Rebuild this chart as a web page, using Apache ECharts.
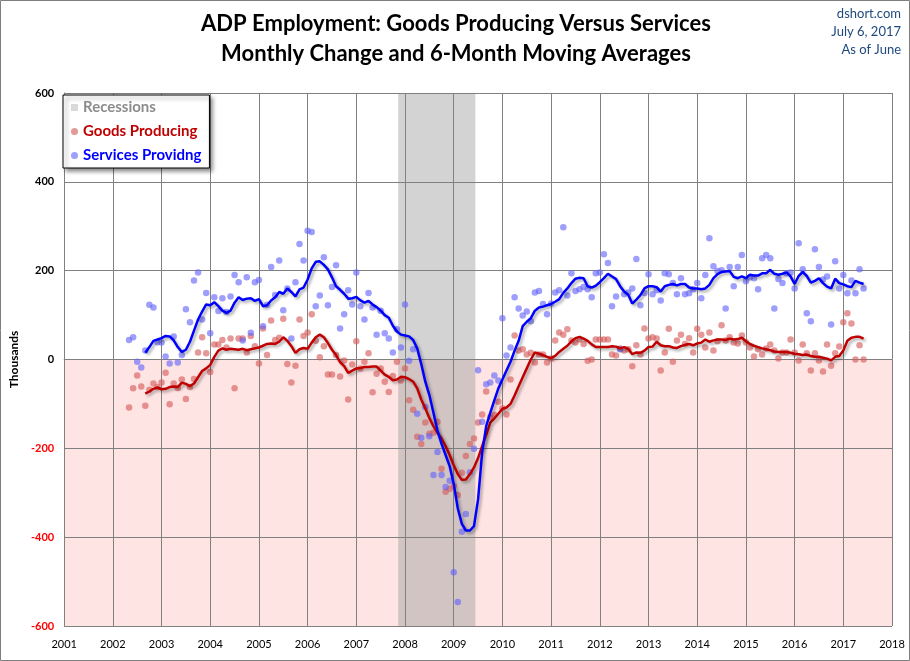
<!DOCTYPE html>
<html>
<head>
<meta charset="utf-8">
<script src="https://cdn.jsdelivr.net/npm/echarts@6/dist/echarts.min.js"></script>
<style>
  html, body { margin: 0; padding: 0; background: #fff; }
  #chart { width: 910px; height: 661px; }
</style>
</head>
<body>
<div id="chart"></div>
<script>
// --- Data (monthly change, thousands) ---
// Scatter data starts May 2002, one value per month up to June 2017
const firstMonth = { year: 2002, month: 5 };
const goodsMonthly = [
  -108, -65, -36, -61, -104, -68, -54, -62,                 // 2002 May-Dec
  -52, -30, -101, -54, -64, -45, -89, -62, -44, 16, 50, 14,  // 2003
  -28, 34, 34, 44, 27, 47, -65, 47, 47, 16, 53, 30,          // 2004
  -9, 70, 10, 88, 44, 49, 92, -10, -52, -14, 90, 53,         // 2005
  61, 102, 42, 5, 30, -34, -34, 10, -38, -2, -90, -11,       // 2006
  41, -20, -5, 14, -74, -32, -20, -50, -73, -37, -5, -47,    // 2007
  -20, -92, -113, -174, -190, -142, -167, -165, -140, -246, -298, -291, // 2008
  -285, -305, -255, -217, -190, -178, -142, -124, -72, -130, -125, -95, // 2009
  -110, -124, -45, 54, 20, 23, 11, 15, -7, 11, 11, -7,       // 2010
  2, 43, 61, 56, 68, 43, 38, 45, 35, -3, 0, 45,              // 2011
  45, 45, 45, 11, 9, 25, 20, 23, -15, 32, 11, 70,            // 2012
  47, 50, 47, -25, 16, 69, -5, 43, 56, 35, 48, 16,           // 2013
  69, 56, 27, 61, 20, 41, 77, 43, 50, 38, 36, 54,            // 2014
  38, 27, 7, 23, 11, 25, 34, 20, 2, 16, 16, 45,              // 2015
  16, -2, 34, 14, -25, 14, -2, -27, 34, -14, 14, 29,         // 2016
  84, 104, 81, 0, 32, 0                                      // 2017 Jan-Jun
];
const servicesMonthly = [
  44, 50, -5, -18, 20, 123, 117, 39,                         // 2002 May-Dec
  38, 7, -9, 52, -7, 10, 113, 84, 178, 196, 90, 150,         // 2003
  59, 140, 109, 138, 107, 142, 190, 174, 43, 185, 60, 174,   // 2004
  179, 75, 123, 208, 145, 223, 111, 160, 47, 174, 260, 223,  // 2005
  290, 287, 120, 144, 230, 122, 163, 212, 70, 102, 156, 124, // 2006
  196, 120, 90, 150, 117, 56, 110, 59, 47, 16, 68, 27,       // 2007
  124, -3, 23, -122, -176, -107, -173, -260, -208, -260, -287, -273, // 2008
  -479, -546, -388, -348, -254, -201, -24, -140, -56, -52, -36, -47, // 2009
  93, 9, 27, 140, 115, 99, 108, 86, 151, 154, 125, 102,      // 2010
  126, 151, 156, 298, 144, 194, 154, 158, 163, 158, 140, 194, // 2011
  196, 237, 217, 120, 142, 23, 147, 151, 160, 226, 122, 150, // 2012
  192, 147, 156, 133, 194, 192, 172, 147, 183, 147, 149, 158, // 2013
  172, 138, 190, 273, 210, 199, 201, 115, 208, 165, 208, 235, // 2014
  176, 185, 183, 158, 228, 235, 228, 115, 181, 172, 194, 196, // 2015
  160, 262, 203, 104, 86, 248, 208, 180, 187, 79, 221, 160,  // 2016
  190, 149, 178, 149, 203, 160                               // 2017 Jan-Jun
];

// 6-month moving averages, as drawn, starting Sep 2002
const maFirstMonth = { year: 2002, month: 9 };
const goodsMA = [
  -77, -72, -66, -63,
  -67, -66, -62, -61, -62, -52, -55, -60, -54, -40, -26, -20,
  -12, 6, 20, 25, 22, 24, 23, 22, 24, 21, 23, 25,
  27, 31, 35, 36, 35, 40, 50, 42, 30, 15, 23, 26,
  24, 38, 50, 56, 50, 37, 22, 10, -6, -15, -30, -25,
  -20, -19, -17, -17, -16, -16, -25, -34, -39, -47, -45, -39,
  -40, -44, -50, -65, -90, -110, -132, -150, -165, -178, -195, -215,
  -238, -258, -271, -270, -258, -243, -222, -195, -170, -142, -133, -122,
  -111, -108, -100, -81, -60, -40, -20, 0, 16, 13, 10, 6,
  3, 8, 17, 24, 31, 41, 48, 51, 47, 42, 34, 28,
  28, 28, 28, 30, 29, 25, 28, 24, 12, 16, 15, 20,
  28, 29, 40, 32, 30, 30, 27, 26, 30, 33, 35, 32,
  36, 38, 45, 40, 43, 45, 45, 44, 47, 45, 46, 49,
  41, 35, 31, 28, 25, 23, 21, 18, 17, 17, 17, 15,
  13, 12, 10, 11, 8, 6, 6, 4, 2, -2, 6, 8,
  20, 42, 49, 51, 51, 47
];
const servicesMA = [
  15, 28, 42, 45,
  48, 53, 52, 43, 28, 17, 22, 40, 65, 90, 108, 124,
  122, 129, 120, 110, 105, 110, 128, 140, 134, 137, 138, 132,
  136, 120, 122, 133, 140, 152, 148, 160, 152, 142, 158, 162,
  180, 205, 220, 221, 213, 203, 185, 165, 157, 148, 137, 138,
  141, 133, 128, 132, 124, 118, 110, 100, 94, 76, 63, 56,
  54, 52, 44, 25, -10, -50, -80, -120, -160, -190, -215, -240,
  -280, -335, -370, -385, -385, -375, -315, -210, -150, -120, -92, -65,
  -45, -25, -5, 20, 42, 75, 85, 93, 110, 117, 119, 122,
  125, 130, 136, 150, 160, 172, 182, 184, 183, 165, 162, 166,
  174, 183, 193, 187, 181, 165, 153, 146, 126, 135, 145, 160,
  165, 165, 163, 153, 165, 168, 170, 167, 170, 170, 162, 160,
  160, 158, 160, 168, 183, 192, 197, 198, 199, 186, 183, 187,
  183, 191, 189, 189, 194, 194, 202, 193, 191, 193, 196, 187,
  170, 188, 197, 188, 173, 177, 183, 172, 164, 160, 182, 172,
  169, 165, 163, 177, 173, 170
];

// Recession (Dec 2007 - Jun 2009) and axis range
const recession = [2007.86, 2009.445];
const xYears = [2001, 2018];
const yRange = [-600, 600];

// --- Helpers ---
const FONT = 'Lato, "Open Sans", sans-serif';

// month index -> decimal year position on the value axis
function toSeries(values, start) {
  return values.map((v, i) => {
    const m = start.month - 1 + i;
    return [start.year + m / 12, v];
  });
}

const chart = echarts.init(document.getElementById('chart'), null, { renderer: 'canvas' });

const lineShadow = { shadowColor: 'rgba(0,0,0,0.35)', shadowBlur: 3, shadowOffsetX: 2, shadowOffsetY: 2 };
const titleFont = 'bold 22px ' + FONT;
const noteFont = '13px ' + FONT;

chart.setOption({
  animation: false,
  grid: { left: 60, right: 18, top: 93, bottom: 35 },
  graphic: [
    { type: 'rect', shape: { x: 0.5, y: 0.5, width: 909, height: 660 },
      style: { fill: null, stroke: '#7f7f7f', lineWidth: 1 }, z: 100 },
    { type: 'text', x: 456, y: 24, style: { text: 'ADP Employment: Goods Producing Versus Services',
      align: 'center', verticalAlign: 'middle', font: titleFont, fill: '#000' } },
    { type: 'text', x: 456, y: 54, style: { text: 'Monthly Change and 6-Month Moving Averages',
      align: 'center', verticalAlign: 'middle', font: titleFont, fill: '#000' } },
    { type: 'text', x: 901, y: 14, style: { text: 'dshort.com', align: 'right', verticalAlign: 'middle',
      font: noteFont, fill: '#1F497D' } },
    { type: 'text', x: 901, y: 32, style: { text: 'July 6, 2017', align: 'right', verticalAlign: 'middle',
      font: noteFont, fill: '#1F497D' } },
    { type: 'text', x: 901, y: 50, style: { text: 'As of June', align: 'right', verticalAlign: 'middle',
      font: noteFont, fill: '#1F497D' } }
  ],
  legend: {
    left: 63, top: 95, orient: 'vertical',
    itemWidth: 7, itemHeight: 7, itemGap: 9,
    padding: [5, 8, 5, 8],
    backgroundColor: '#fff', borderColor: '#000', borderWidth: 1,
    shadowColor: 'rgba(0,0,0,0.45)', shadowBlur: 4, shadowOffsetX: 3, shadowOffsetY: 3,
    selectedMode: false,
    textStyle: { fontFamily: FONT, fontSize: 15, fontWeight: 'bold' },
    data: [
      { name: 'Recessions', icon: 'rect', textStyle: { color: '#8c8c8c' } },
      { name: 'Goods Producing', icon: 'circle', textStyle: { color: '#C00000' } },
      { name: 'Services Providng', icon: 'circle', textStyle: { color: '#0000FF' } }
    ]
  },
  xAxis: {
    type: 'value', min: xYears[0], max: xYears[1], interval: 1, z: 3,
    axisLine: { show: true, lineStyle: { color: '#808080' } },
    axisTick: { show: false },
    splitLine: { show: true, lineStyle: { color: '#808080', width: 1 } },
    axisLabel: { formatter: v => String(v), color: '#000', fontFamily: FONT, fontSize: 11, margin: 13 }
  },
  yAxis: {
    type: 'value', min: yRange[0], max: yRange[1], interval: 200, z: 3,
    name: 'Thousands', nameLocation: 'middle', nameRotate: 90, nameGap: 42,
    nameTextStyle: { fontFamily: FONT, fontSize: 12, fontWeight: 'bold', color: '#000' },
    axisLine: { show: true, lineStyle: { color: '#808080' } },
    axisTick: { show: false },
    splitLine: { show: true, lineStyle: { color: '#808080', width: 1 } },
    axisLabel: { color: v => (Number(v) < 0 ? '#FF0000' : '#000'), fontFamily: FONT,
      fontSize: 11, fontWeight: 'bold', margin: 10 }
  },
  series: [
    { // pink band below zero
      name: 'negative', type: 'scatter', data: [], z: 1, silent: true,
      markArea: { silent: true, itemStyle: { color: '#FFE4E4' },
        data: [[{ xAxis: xYears[0], yAxis: yRange[0] }, { xAxis: xYears[1], yAxis: 0 }]] }
    },
    {
      name: 'Recessions', type: 'scatter', data: [], z: 2, silent: true,
      itemStyle: { color: '#CFCFCF' },
      markArea: { silent: true, itemStyle: { color: 'rgba(159,159,159,0.46)' },
        data: [[{ xAxis: recession[0], yAxis: yRange[0] }, { xAxis: recession[1], yAxis: yRange[1] }]] }
    },
    {
      name: 'Goods Producing', type: 'scatter', z: 4, symbolSize: 6.5,
      itemStyle: { color: 'rgba(214,90,90,0.78)' },
      data: toSeries(goodsMonthly, firstMonth)
    },
    {
      name: 'Services Providng', type: 'scatter', z: 4, symbolSize: 6.5,
      itemStyle: { color: 'rgba(100,100,250,0.78)' },
      data: toSeries(servicesMonthly, firstMonth)
    },
    {
      name: 'Goods 6MA', type: 'line', z: 5, showSymbol: false, smooth: false,
      lineStyle: Object.assign({ color: '#C00000', width: 2.5 }, lineShadow),
      data: toSeries(goodsMA, maFirstMonth)
    },
    {
      name: 'Services 6MA', type: 'line', z: 5, showSymbol: false, smooth: false,
      lineStyle: Object.assign({ color: '#0000FF', width: 2.5 }, lineShadow),
      data: toSeries(servicesMA, maFirstMonth)
    }
  ]
});
</script>
</body>
</html>
